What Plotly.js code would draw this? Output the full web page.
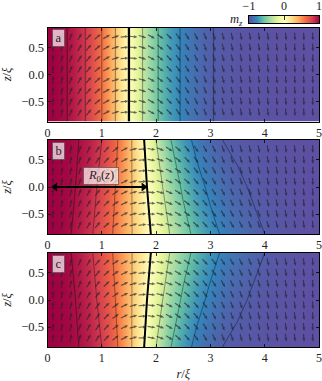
<!DOCTYPE html>
<html>
<head>
<meta charset="utf-8">
<script src="https://cdn.plot.ly/plotly-3.0.1.min.js"></script>
<style>
  html, body { margin: 0; padding: 0; background: #fff; }
  #chart { width: 322px; height: 381px; }
</style>
</head>
<body>
<div id="chart"></div>
<script>
// polar angle of m in degrees (m_z = cos)
const rGrid = [0, 0.25, 0.5, 0.75, 1, 1.25, 1.5, 1.75, 2, 2.25, 2.5, 2.75, 3, 3.25, 3.5, 4, 4.5, 5];
const zGrid = [-0.87, 0, 0.87];

const angleA = [0, 12.2, 25.1, 39, 54, 72, 90, 108, 124.1, 136.2, 146.4, 153.7, 161.1, 165, 168, 172, 176, 178];

const angleB = [
  [0, 10.2, 20.7, 32, 44, 56.5, 69, 82, 95.1, 108, 120.2, 130.5, 139.2, 146.3, 151.5, 162, 170, 177],
  [0, 8.7, 17.3, 28.4, 40.4, 54, 68.5, 84.7, 100.9, 115.6, 128.5, 139, 147.2, 153.4, 159.5, 166.6, 172, 178],
  [0, 7.5, 15, 24.8, 36, 51, 67.8, 87.5, 108, 124.7, 137.8, 148, 155.8, 162.5, 165, 169, 174, 178]
];

const angleC = [
  [0, 7.5, 15, 24.8, 36, 51, 67.8, 87.5, 108, 124.7, 137.8, 148, 155.8, 162.5, 165, 169, 174, 178],
  [0, 8.7, 17.3, 28.4, 40.4, 54, 68.5, 84.7, 100.9, 115.6, 128.5, 139, 147.2, 153.4, 159.5, 166.6, 172, 178],
  [0, 10.2, 20.7, 32, 44, 56.5, 69, 82, 95.1, 108, 120.2, 130.5, 139.2, 146.3, 151.5, 162, 170, 177]
];

// where the quiver arrows sit
const arrowR = [0.1, 0.265, 0.43, 0.595, 0.76, 0.925, 1.09, 1.255, 1.42, 1.585, 1.75, 1.915, 2.08, 2.245, 2.41, 2.575, 2.74, 2.905, 3.07, 3.235, 3.4, 3.565, 3.73, 3.895, 4.06, 4.225, 4.39, 4.555, 4.72, 4.885];
const arrowZ = [-0.7, -0.5, -0.3, -0.1, 0.1, 0.3, 0.5, 0.7];

const radiusR = [0.14, 1.77];
const radiusZ = [0, 0];

const colorbarValues = [-1, -0.8, -0.6, -0.4, -0.2, 0, 0.2, 0.4, 0.6, 0.8, 1];
const colorbarColors = ["#5e4fa2", "#3288bd", "#66c2a5", "#abdda4", "#e6f598", "#ffffbf", "#fee08b", "#fdae61", "#f46d43", "#d53e4f", "#9e0142"];
const colorbarTicks = [-1, 0, 1];
const colorbarTickText = ["\u22121", "0", "1"];
const rTicks = [0, 1, 2, 3, 4, 5];
const zTicks = [-0.5, 0, 0.5];
const zTickText = ["\u22120.5", "0.0", "0.5"];
const panelLabels = ["a", "b", "c"];

const W = 322;
const H = 381;
const FONT = "Liberation Serif, serif";
const TEXT = "#222";

function hexToRgb(hex) {
  return [1, 3, 5].map(function(i) { return parseInt(hex.slice(i, i + 2), 16); });
}

function colorForMz(mz) {
  const pos = (mz + 1) * 5;
  const i = Math.min(9, Math.floor(pos));
  const a = hexToRgb(colorbarColors[i]);
  const b = hexToRgb(colorbarColors[i + 1]);
  const c = a.map(function(v, k) { return Math.round(v + (b[k] - v) * (pos - i)); });
  return "rgb(" + c.join(",") + ")";
}

const mzScale = colorbarValues.map(function(v, i) {
  return [(v + 1) / 2, colorbarColors[i]];
});

// the field is stored as an angle, so its colour scale runs over the angle too
const angleScale = [];
for (let deg = 0; deg <= 180; deg += 6) {
  angleScale.push([deg / 180, colorForMz(Math.cos(deg * Math.PI / 180))]);
}

function lookup(table, r, z) {
  let i = 0;
  while (i < rGrid.length - 2 && rGrid[i + 1] < r) i++;
  let j = 0;
  while (j < zGrid.length - 2 && zGrid[j + 1] < z) j++;
  const tr = (r - rGrid[i]) / (rGrid[i + 1] - rGrid[i]);
  const tz = (z - zGrid[j]) / (zGrid[j + 1] - zGrid[j]);
  const low = table[j][i] * (1 - tr) + table[j][i + 1] * tr;
  const high = table[j + 1][i] * (1 - tr) + table[j + 1][i + 1] * tr;
  return low * (1 - tz) + high * tz;
}

function quiverTrace(table, suffix) {
  const xs = [];
  const ys = [];
  const len = 0.145;
  const headLen = 0.065;
  const shaft = 0.011;
  const head = 0.027;
  arrowZ.forEach(function(z) {
    arrowR.forEach(function(r) {
      const theta = lookup(table, r, z) * Math.PI / 180;
      const ux = Math.sin(theta);
      const uy = Math.cos(theta);
      const px = -uy;
      const py = ux;
      const outline = [
        [-len / 2, -shaft], [len / 2 - headLen, -shaft], [len / 2 - headLen, -head],
        [len / 2, 0], [len / 2 - headLen, head], [len / 2 - headLen, shaft], [-len / 2, shaft]
      ];
      outline.forEach(function(p) {
        xs.push(r + ux * p[0] + px * p[1]);
        ys.push(z + uy * p[0] + py * p[1]);
      });
      xs.push(null);
      ys.push(null);
    });
  });
  return {
    x: xs,
    y: ys,
    xaxis: "x" + suffix,
    yaxis: "y" + suffix,
    type: "scatter",
    mode: "lines",
    fill: "toself",
    fillcolor: "rgba(35,35,45,0.68)",
    line: { width: 0 },
    hoverinfo: "skip",
    showlegend: false
  };
}

function fieldTrace(table, suffix, lineWidth, lineColor) {
  return {
    type: "contour",
    x: rGrid,
    y: zGrid,
    z: table,
    xaxis: "x" + suffix,
    yaxis: "y" + suffix,
    colorscale: angleScale,
    zauto: false,
    zmin: 0,
    zmax: 180,
    showscale: false,
    autocontour: false,
    contours: { coloring: "heatmap", start: 18, end: 162, size: 18 },
    line: { color: lineColor, width: lineWidth, smoothing: 0 },
    hoverinfo: "skip"
  };
}

function wallTrace(table, suffix, lineWidth) {
  return {
    type: "contour",
    x: rGrid,
    y: zGrid,
    z: table,
    xaxis: "x" + suffix,
    yaxis: "y" + suffix,
    showscale: false,
    autocontour: false,
    contours: { coloring: "none", start: 90, end: 90, size: 18 },
    line: { color: "#000", width: lineWidth, smoothing: 0 },
    hoverinfo: "skip"
  };
}

function xAxis(anchor) {
  return {
    domain: [47.5 / W, 319 / W],
    range: [0, 5],
    anchor: anchor,
    tickvals: rTicks,
    ticktext: rTicks.map(String),
    ticks: "inside",
    ticklen: 3,
    tickwidth: 0.8,
    tickcolor: "#000",
    showline: true,
    mirror: "ticks",
    linecolor: "#000",
    linewidth: 1,
    showgrid: false,
    zeroline: false,
    tickfont: { family: FONT, size: 12, color: TEXT }
  };
}

function yAxis(anchor, top, bottom) {
  return {
    domain: [(H - bottom) / H, (H - top) / H],
    range: [-0.87, 0.87],
    anchor: anchor,
    tickvals: zTicks,
    ticktext: zTickText,
    ticks: "inside",
    ticklen: 3,
    tickwidth: 0.8,
    tickcolor: "#000",
    showline: true,
    mirror: "ticks",
    linecolor: "#000",
    linewidth: 1,
    showgrid: false,
    zeroline: false,
    tickfont: { family: FONT, size: 12.5, color: TEXT },
    title: { text: "<i>z</i>/<i>\u03be</i>", font: { family: FONT, size: 12.5, color: TEXT }, standoff: 8 }
  };
}

const rowA = [angleA, angleA, angleA];

const traces = [
  fieldTrace(rowA, "", 1.2, "rgba(0,0,0,0.35)"),
  wallTrace(rowA, "", 2.3),
  quiverTrace(rowA, ""),
  fieldTrace(angleB, "2", 0.7, "rgba(0,0,0,0.55)"),
  wallTrace(angleB, "2", 2),
  quiverTrace(angleB, "2"),
  {
    x: radiusR,
    y: radiusZ,
    xaxis: "x2",
    yaxis: "y2",
    type: "scatter",
    mode: "lines+markers",
    line: { color: "#000", width: 1.8 },
    marker: { symbol: ["triangle-left", "triangle-right"], size: 8, color: "#000" },
    hoverinfo: "skip",
    showlegend: false
  },
  fieldTrace(angleC, "3", 0.7, "rgba(0,0,0,0.55)"),
  wallTrace(angleC, "3", 2),
  quiverTrace(angleC, "3"),
  {
    type: "heatmap",
    x: colorbarValues,
    y: [0, 1],
    z: [colorbarValues, colorbarValues],
    xaxis: "x4",
    yaxis: "y4",
    colorscale: mzScale,
    zauto: false,
    zmin: -1,
    zmax: 1,
    zsmooth: "best",
    showscale: false,
    hoverinfo: "skip"
  }
];

function panelLabel(text, suffix) {
  return {
    xref: "x" + suffix,
    yref: "y" + suffix,
    x: 0.21,
    y: 0.67,
    text: text,
    showarrow: false,
    width: 10,
    height: 15,
    borderpad: 0.5,
    bgcolor: "rgba(255,255,255,0.7)",
    bordercolor: "rgba(80,80,80,0.7)",
    borderwidth: 1,
    font: { family: FONT, size: 12.5, color: TEXT }
  };
}

const xaxis3 = xAxis("y3");
xaxis3.title = { text: "<i>r</i>/<i>\u03be</i>", font: { family: FONT, size: 12.5, color: TEXT }, standoff: 8 };

const layout = {
  width: W,
  height: H,
  margin: { l: 0, r: 0, t: 0, b: 0 },
  paper_bgcolor: "#fff",
  plot_bgcolor: "#fff",
  showlegend: false,
  xaxis: xAxis("y"),
  yaxis: yAxis("x", 27.5, 121.5),
  xaxis2: xAxis("y2"),
  yaxis2: yAxis("x2", 140, 234),
  xaxis3: xaxis3,
  yaxis3: yAxis("x3", 253, 347),
  xaxis4: {
    domain: [249 / W, 319 / W],
    range: [-1, 1],
    anchor: "y4",
    side: "top",
    tickvals: colorbarTicks,
    ticktext: colorbarTickText,
    ticks: "inside",
    ticklen: 4,
    tickwidth: 0.8,
    tickcolor: "#000",
    showline: true,
    mirror: true,
    linecolor: "#000",
    linewidth: 1,
    showgrid: false,
    zeroline: false,
    tickfont: { family: FONT, size: 12, color: TEXT }
  },
  yaxis4: {
    domain: [(H - 23) / H, (H - 15.5) / H],
    range: [0, 1],
    anchor: "x4",
    showticklabels: false,
    ticks: "",
    showline: true,
    mirror: true,
    linecolor: "#000",
    linewidth: 1,
    showgrid: false,
    zeroline: false
  },
  annotations: [
    panelLabel(panelLabels[0], ""),
    panelLabel(panelLabels[1], "2"),
    panelLabel(panelLabels[2], "3"),
    {
      xref: "paper",
      yref: "paper",
      x: 236 / W,
      y: (H - 20) / H,
      xanchor: "center",
      yanchor: "middle",
      text: "<i>m</i><sub><i>z</i></sub>",
      showarrow: false,
      font: { family: FONT, size: 12.5, color: TEXT }
    },
    {
      xref: "x2",
      yref: "y2",
      x: 0.98,
      y: 0.195,
      text: "<i>R</i><sub>0</sub>(<i>z</i>)",
      showarrow: false,
      width: 33,
      height: 15,
      borderpad: 0.5,
      bgcolor: "rgba(255,255,255,0.7)",
      bordercolor: "rgba(80,80,80,0.7)",
      borderwidth: 1,
      font: { family: FONT, size: 12.5, color: TEXT }
    }
  ]
};

Plotly.newPlot("chart", traces, layout, { displayModeBar: false, staticPlot: true });
</script>
</body>
</html>
